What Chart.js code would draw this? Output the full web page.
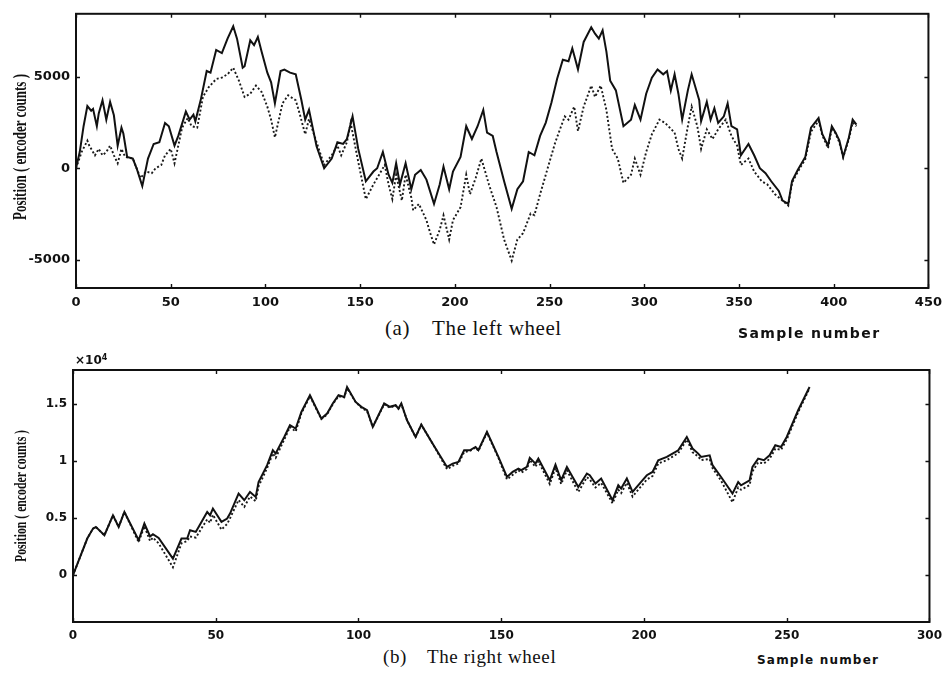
<!DOCTYPE html>
<html>
<head>
<meta charset="utf-8">
<script src="https://cdn.jsdelivr.net/npm/chart.js@4.4.1/dist/chart.umd.min.js"></script>
<style>
  html, body { margin: 0; padding: 0; background: #fff; }
  #wrap { position: relative; width: 949px; height: 675px; overflow: hidden; background: #fff; }
  canvas { position: absolute; left: 0; }
  .ytitle {
    position: absolute; white-space: nowrap; color: #111;
    font-family: "Liberation Serif", "Times New Roman", serif; font-weight: bold;
    line-height: 1;
  }
  .cap {
    position: absolute; white-space: nowrap; color: #111;
    font-family: "Liberation Serif", "Times New Roman", serif;
    letter-spacing: 0.6px; line-height: 1;
  }
  .xname {
    position: absolute; white-space: nowrap; color: #111;
    font-family: "DejaVu Sans", sans-serif; font-weight: bold;
    line-height: 1;
  }
  .exp {
    position: absolute; white-space: nowrap; color: #111;
    font-family: "DejaVu Sans", sans-serif; font-weight: bold; font-size: 12px; line-height: 1;
  }
</style>
</head>
<body>
<div id="wrap">
  <canvas id="left" width="949" height="312" style="top:0"></canvas>
  <canvas id="right" width="949" height="305" style="top:340px"></canvas>

  <div class="ytitle" style="left:20px;top:147px;font-size:18px;transform:translate(-50%,-50%) rotate(-90deg) scaleX(0.72);">Position ( encoder counts )</div>
  <div class="ytitle" style="left:20px;top:496px;font-size:17px;transform:translate(-50%,-50%) rotate(-90deg) scaleX(0.69);">Position ( encoder counts )</div>

  <div class="cap" style="left:385px;top:318px;font-size:21px;">(a)<span style="margin-left:22px">The left wheel</span></div>
  <div class="xname" style="left:738px;top:326px;font-size:14px;letter-spacing:1.4px;">Sample number</div>

  <div class="exp" style="left:75px;top:354px;">×10<sup style="font-size:8px;vertical-align:4px;">4</sup></div>

  <div class="cap" style="left:383px;top:647px;font-size:19px;">(b)<span style="margin-left:20px">The right wheel</span></div>
  <div class="xname" style="left:757px;top:654px;font-size:12px;letter-spacing:1.2px;">Sample number</div>
</div>

<script>
// ---- (a) left wheel: encoder position per sample ----
const leftSamples = [0,2,4,6,8,9,11,12,14,16,18,20,22,24,25,27,30,32,35,38,41,44,47,49,52,54,58,60,62,63,66,69,71,74,77,80,83,85,88,89,92,94,96,98,101,103,105,108,110,113,116,119,121,123,127,131,135,138,141,143,146,149,153,157,159,162,165,167,169,171,174,177,179,182,185,189,192,194,197,199,203,206,209,212,215,217,220,222,226,230,233,236,239,242,245,248,251,254,257,260,262,265,268,272,274,276,278,280,282,285,289,293,295,298,301,304,307,310,312,314,316,318,320,323,325,329,330,333,335,337,339,342,344,346,349,351,355,358,361,364,367,371,373,376,378,381,385,388,392,394,397,399,401,403,405,408,410,412];
const leftMeasured = [0,900,2300,3400,3150,3250,2300,3000,3720,2660,3630,2900,1240,2220,1900,620,530,0,-975,530,1330,1420,2480,2300,1240,1770,3100,2660,2930,2570,3810,5320,5230,6470,6300,7090,7770,7090,5500,5580,7000,6740,7180,6380,5230,4700,3550,5320,5400,5230,5140,3720,2660,3200,1200,0,530,1420,1330,1600,2840,1060,-710,-180,0,890,-355,-800,270,-890,270,-1150,-355,-90,-620,-1950,-890,90,-1150,-180,620,2300,1600,2300,3190,1950,1770,890,-710,-2220,-1150,-710,890,710,1770,2500,3600,4900,5940,5850,6560,5410,6910,7710,7360,7090,7540,6380,4790,4260,2300,2660,3460,2660,4080,4960,5410,5140,5320,4260,5140,4080,2660,4260,5140,3720,2570,3630,2660,3280,2480,2840,3550,2300,2130,710,1330,710,0,-270,-710,-1240,-1770,-1950,-700,-100,620,2220,2750,1860,1240,2300,1950,1510,620,1680,2660,2390];

const leftRefSamples = [0,3,6,7,10,12,14,16,18,20,22,24,26,30,34,37,40,42,45,47,50,52,54,56,59,61,64,67,70,74,77,80,83,86,89,92,95,98,101,103,105,109,112,116,118,121,123,127,131,135,138,140,143,145,149,153,157,160,163,165,167,169,172,174,177,178,181,185,187,189,192,194,197,199,203,206,208,211,214,218,222,226,230,233,236,240,242,245,248,253,258,260,263,265,268,272,274,277,280,283,286,289,293,295,298,301,304,308,311,316,318,320,323,325,328,330,333,336,339,343,346,349,351,355,358,362,365,369,373,376,378,381,385,388,392,394,397,399,401,403,405,408,410,412];
const leftReference = [0,900,1510,1240,710,1060,710,890,1240,710,270,1060,620,530,-530,-180,-270,0,180,710,1060,270,1240,2220,2750,2300,2220,3900,4430,4880,4960,5140,5500,4790,3900,4080,4520,4170,3370,2660,1690,3550,3990,3720,3010,1860,2700,1420,180,710,1240,710,1420,2480,355,-1690,-890,-355,180,-890,-1690,-355,-1770,-355,-1600,-2300,-1950,-2840,-3550,-4170,-3370,-2570,-3900,-2840,-2130,-355,-1420,-530,530,-890,-2130,-3900,-5050,-3900,-3550,-2480,-2570,-1420,-350,1420,2840,2660,3370,2040,3370,4520,3900,4520,3190,1060,530,-800,-355,530,-355,890,1860,2660,2480,1950,1060,530,2300,3370,2300,1060,2130,1600,2130,2660,1770,1240,180,530,-180,-710,-890,-1420,-1770,-2040,-800,-200,500,2000,2600,1800,1100,2200,1900,1400,600,1600,2500,2300];

// ---- (b) right wheel: encoder position per sample ----
const rightSamples = [0,5,7,8,11,14,16,18,23,25,27,28,30,35,38,40,41,43,44,47,48,49,52,54,55,58,60,62,64,65,68,70,71,74,76,78,80,83,87,89,91,93,95,96,99,101,103,105,109,111,113,114,115,117,120,122,127,131,133,135,137,139,141,142,145,149,152,154,156,157,159,160,162,163,167,169,171,173,177,180,181,183,185,189,191,192,194,196,199,201,203,205,208,210,212,215,217,219,220,223,224,227,231,233,234,237,238,240,242,244,246,248,250,254,258];
const rightMeasured = [0,3220,4090,4240,3510,5260,4240,5550,3070,4530,3400,3600,3270,1460,3220,3220,3950,3800,4240,5550,5260,5850,4680,4970,5410,7160,6580,7310,6870,8180,9650,10960,10670,12130,13160,12870,14320,15790,13740,14180,15060,15790,15640,16510,15200,14770,14470,13010,15060,14770,14910,14620,15060,13590,12130,13210,11110,9500,9790,9940,10960,10960,11250,10960,12570,10380,8620,9060,9350,9210,9500,10290,9790,10230,8330,9700,8330,9500,7740,8920,8770,8040,8480,6580,7890,7600,8480,7310,8190,8770,9060,10090,10380,10670,10960,12130,11110,10670,10380,10520,9650,8620,7160,8180,7890,8330,9500,10230,10090,10520,11400,11250,12130,14470,16510];
const rightReference = [0,3220,4090,4240,3510,5260,4240,5550,2900,4300,3000,3300,2800,700,2800,3000,3400,3300,3700,4900,4600,5300,4000,4500,5000,6600,6000,6900,6500,7800,9400,10700,10300,11900,13000,12600,14200,15700,13700,14100,15000,15700,15600,16400,15200,14700,14400,13000,15000,14700,14900,14600,15000,13600,12100,13200,11100,9300,9600,9800,10800,10900,11200,10900,12500,10300,8400,8800,9200,9000,9300,10100,9500,10000,8000,9400,8000,9200,7300,8600,8400,7700,8100,6300,7500,7200,8100,6900,7800,8400,8700,9800,10100,10400,10700,11900,10800,10400,10100,10200,9400,8300,6400,7700,7500,7900,9100,9900,9800,10200,11100,11000,11900,14300,16400];

// axis ticks
const leftXTicks = [0,50,100,150,200,250,300,350,400,450];
const leftYTicks = [-5000,0,5000];
const rightXTicks = [0,50,100,150,200,250,300];
const rightYTicks = [0,5000,10000,15000];

const pts = (xs, ys) => xs.map((x, i) => ({ x, y: ys[i] }));

// box round the plot area with short inward tick marks on every side
const framePlugin = {
  id: 'frame',
  afterDatasetsDraw(chart) {
    const { ctx, chartArea: a, scales: { x, y } } = chart;
    ctx.save();
    ctx.strokeStyle = '#111';
    ctx.lineWidth = 2;
    ctx.strokeRect(a.left, a.top, a.right - a.left, a.bottom - a.top);
    ctx.lineWidth = 1.4;
    ctx.beginPath();
    x.ticks.forEach(t => {
      const px = Math.round(x.getPixelForValue(t.value)) + 0.5;
      ctx.moveTo(px, a.bottom); ctx.lineTo(px, a.bottom - 4);
      ctx.moveTo(px, a.top); ctx.lineTo(px, a.top + 4);
    });
    y.ticks.forEach(t => {
      const py = Math.round(y.getPixelForValue(t.value)) + 0.5;
      ctx.moveTo(a.left, py); ctx.lineTo(a.left + 4, py);
      ctx.moveTo(a.right, py); ctx.lineTo(a.right - 4, py);
    });
    ctx.stroke();
    ctx.restore();
  }
};

function makeChart(id, cfg) {
  const tickFont = { family: 'DejaVu Sans', weight: 'bold', size: cfg.fontSize };
  return new Chart(document.getElementById(id), {
    type: 'line',
    data: {
      datasets: [
        { data: cfg.solid, borderColor: '#111', borderWidth: 2, pointRadius: 0, tension: 0 },
        { data: cfg.dotted, borderColor: '#1a1a1a', borderWidth: 1.9, borderDash: [2, 2.2], pointRadius: 0, tension: 0 }
      ]
    },
    options: {
      responsive: false,
      animation: false,
      devicePixelRatio: 1,
      layout: { padding: cfg.padding },
      plugins: { legend: { display: false }, tooltip: { enabled: false } },
      scales: {
        x: {
          type: 'linear', min: cfg.xMin, max: cfg.xMax,
          grid: { display: false, drawTicks: false },
          border: { display: false },
          afterBuildTicks: s => { s.ticks = cfg.xTicks.map(v => ({ value: v })); },
          afterFit: s => { s.height = cfg.xHeight; },
          ticks: { font: tickFont, color: '#111', padding: cfg.xPad, maxRotation: 0, autoSkip: false }
        },
        y: {
          type: 'linear', min: cfg.yMin, max: cfg.yMax,
          grid: { display: false, drawTicks: false },
          border: { display: false },
          afterBuildTicks: s => { s.ticks = cfg.yTicks.map(v => ({ value: v })); },
          afterFit: s => { s.width = cfg.yWidth; },
          ticks: { font: tickFont, color: '#111', padding: cfg.yPad, callback: cfg.yLabel }
        }
      }
    },
    plugins: [framePlugin]
  });
}

makeChart('left', {
  solid: pts(leftSamples, leftMeasured),
  dotted: pts(leftRefSamples, leftReference),
  xMin: 0, xMax: 450, yMin: -6550, yMax: 8450,
  xTicks: leftXTicks, yTicks: leftYTicks,
  padding: { top: 6, right: 14, left: 0, bottom: 0 },
  xHeight: 24, yWidth: 76, xPad: 7, yPad: 6, fontSize: 13,
  yLabel: v => String(v)
});

makeChart('right', {
  solid: pts(rightSamples, rightMeasured),
  dotted: pts(rightSamples, rightReference),
  xMin: 0, xMax: 300, yMin: -4100, yMax: 18000,
  xTicks: rightXTicks, yTicks: rightYTicks,
  padding: { top: 30, right: 18, left: 0, bottom: 0 },
  xHeight: 23, yWidth: 73, xPad: 7, yPad: 6, fontSize: 12,
  yLabel: v => String(v / 10000)
});
</script>
</body>
</html>
